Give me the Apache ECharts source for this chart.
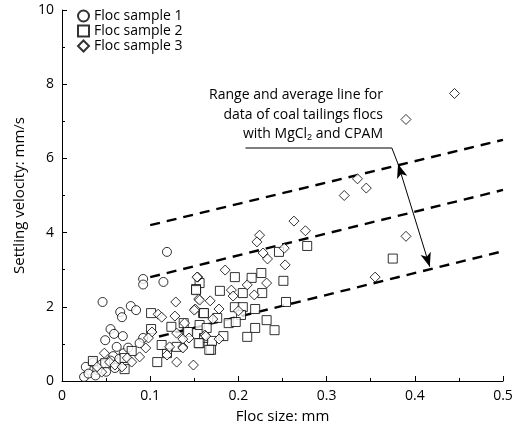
<!DOCTYPE html><html><head><meta charset="utf-8"><script src="https://cdn.jsdelivr.net/npm/echarts@6/dist/echarts.min.js"></script></head><body style="margin:0"><div id="c" style="width:520px;height:431px"></div><script>
const sample1=[[0.119,3.48],[0.092,2.75],[0.092,2.6],[0.115,2.67],[0.046,2.13],[0.078,2.02],[0.084,1.91],[0.066,1.86],[0.068,1.72],[0.055,1.4],[0.059,1.27],[0.069,1.21],[0.049,1.1],[0.062,0.92],[0.092,1.16],[0.088,1.02],[0.058,0.67],[0.027,0.38],[0.025,0.11],[0.04,0.3],[0.035,0.5],[0.045,0.45],[0.05,0.25],[0.055,0.55],[0.065,0.6],[0.07,0.75],[0.075,0.9],[0.03,0.2],[0.038,0.15],[0.06,0.35]];
const sample2=[[0.246,3.48],[0.278,3.64],[0.226,2.91],[0.215,2.78],[0.196,2.8],[0.156,2.64],[0.152,2.48],[0.179,2.43],[0.205,2.37],[0.227,2.37],[0.251,2.7],[0.254,2.13],[0.196,1.99],[0.205,1.99],[0.219,1.94],[0.16,1.83],[0.203,1.78],[0.176,1.7],[0.189,1.56],[0.197,1.59],[0.232,1.64],[0.156,1.51],[0.164,1.43],[0.219,1.43],[0.241,1.37],[0.142,1.32],[0.161,1.16],[0.183,1.21],[0.17,1.08],[0.21,1.19],[0.156,1.02],[0.169,0.84],[0.375,3.3],[0.101,1.83],[0.101,1.4],[0.124,1.46],[0.138,1.56],[0.143,1.32],[0.152,2.45],[0.161,1.83],[0.13,0.92],[0.119,0.75],[0.108,0.51],[0.079,0.81],[0.071,0.62],[0.071,0.32],[0.035,0.54],[0.049,0.48],[0.113,0.97],[0.155,1.02],[0.167,0.84]];
const sample3=[[0.445,7.75],[0.39,7.05],[0.39,3.9],[0.355,2.8],[0.345,5.2],[0.335,5.45],[0.32,5.0],[0.263,4.31],[0.276,4.05],[0.224,3.93],[0.221,3.75],[0.228,3.45],[0.233,3.29],[0.252,3.58],[0.253,3.13],[0.185,2.99],[0.154,2.8],[0.232,2.64],[0.192,2.45],[0.194,2.29],[0.21,2.59],[0.218,2.32],[0.155,2.21],[0.168,2.16],[0.151,1.94],[0.178,1.94],[0.2,1.89],[0.171,1.67],[0.139,1.56],[0.144,1.16],[0.178,1.13],[0.162,1.24],[0.137,0.92],[0.153,2.8],[0.156,2.18],[0.129,2.13],[0.128,1.75],[0.109,1.8],[0.113,1.72],[0.15,1.91],[0.102,1.32],[0.098,1.16],[0.13,1.29],[0.137,1.13],[0.163,1.21],[0.095,0.89],[0.122,0.92],[0.119,0.7],[0.137,0.89],[0.13,0.51],[0.149,0.43],[0.048,0.75],[0.074,0.62],[0.079,0.51],[0.088,0.65],[0.054,0.51],[0.04,0.38],[0.06,0.43],[0.045,0.24],[0.068,0.38]];
const upperLine=[[0.1,4.2],[0.5,6.5]];
const averageLine=[[0.1,2.8],[0.5,5.15]];
const lowerLine=[[0.11,1.2],[0.5,3.5]];
const arrowLine=[[0.381,5.85],[0.417,3.08]];
const leaderLine=[[0.208,6.28],[0.374,6.28],[0.381,5.85]];
const ch=echarts.init(document.getElementById('c'));
const F='Open Sans';
const sc=(name,data,sym,size)=>({name,type:'scatter',data,symbol:sym,symbolSize:size,itemStyle:{color:'#fff',borderColor:'#000',borderWidth:1},z:3});
const dash=d=>({type:'line',data:d,symbol:'none',lineStyle:{color:'#000',width:2.4,type:[10,7]},silent:true});
const txt=(t,top)=>({type:'text',right:137,top,style:{text:t,fontFamily:F,fontSize:14,fill:'#000',rich:{s:{fontSize:9,padding:[8,0,0,0]}}}});
ch.setOption({animation:false,
textStyle:{fontFamily:F},
grid:{left:62,right:17,top:10,bottom:50},
legend:{left:72,top:4,orient:'vertical',itemGap:1,itemWidth:11,itemHeight:11,textStyle:{fontFamily:F,fontSize:14,color:'#000'},data:['Floc sample 1','Floc sample 2','Floc sample 3']},
xAxis:{type:'value',min:0,max:0.5,interval:0.1,name:'Floc size: mm',nameLocation:'middle',nameGap:28,nameTextStyle:{fontSize:15,color:'#000'},axisLine:{lineStyle:{color:'#000'}},axisTick:{inside:true,length:5,lineStyle:{color:'#000'}},minorTick:{show:true,splitNumber:2},splitLine:{show:false},axisLabel:{color:'#000',fontSize:14,formatter:v=>v===0?'0':v.toString()}},
yAxis:{type:'value',min:0,max:10,interval:2,name:'Settling velocity: mm/s',nameLocation:'middle',nameGap:32,nameTextStyle:{fontSize:15,color:'#000'},axisLine:{lineStyle:{color:'#000'}},axisTick:{inside:true,length:5,lineStyle:{color:'#000'}},minorTick:{show:true,splitNumber:2},splitLine:{show:false},axisLabel:{color:'#000',fontSize:14}},
series:[sc('Floc sample 1',sample1,'circle',9),sc('Floc sample 2',sample2,'rect',9),sc('Floc sample 3',sample3,'diamond',10),
dash(upperLine),dash(averageLine),dash(lowerLine),
{type:'line',data:leaderLine,symbol:'none',lineStyle:{color:'#000',width:1},silent:true},
{type:'line',data:[],markLine:{silent:true,symbol:['arrow','arrow'],symbolSize:[8,14],lineStyle:{color:'#000',width:1,type:'solid'},label:{show:false},data:[[{coord:arrowLine[0]},{coord:arrowLine[1]}]]}}],
graphic:[txt('Range and average line for',88),txt('data of coal tailings flocs',108),txt('with MgCl{s|2} and CPAM',127)]
});
</script></body></html>
